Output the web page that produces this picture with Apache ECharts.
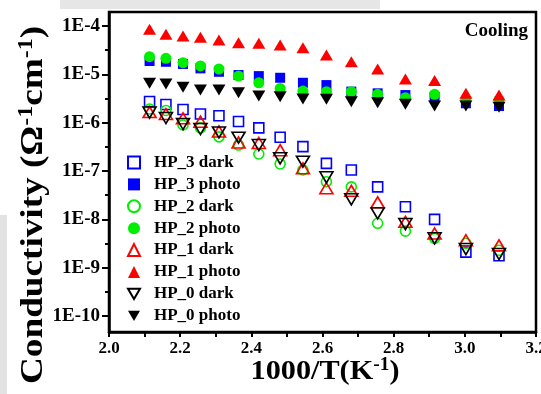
<!DOCTYPE html>
<html>
<head>
<meta charset="utf-8">
<script src="https://cdn.jsdelivr.net/npm/echarts@6/dist/echarts.min.js"></script>
<style>
  html, body { margin: 0; padding: 0; background: #fff; }
  #chart { width: 541px; height: 394px; }
</style>
</head>
<body>
<div id="chart"></div>
<script>
// 1000/T values (K^-1) for the cooling run, 473 K down to 323 K
const invT = [2.114, 2.160, 2.208, 2.257, 2.309, 2.364, 2.421, 2.481, 2.545, 2.611, 2.681, 2.755, 2.833, 2.915, 3.003, 3.096];

// Conductivity (ohm^-1 cm^-1), dark and under illumination
const hp3Dark  = [2.74e-6, 2.38e-6, 1.87e-6, 1.51e-6, 1.39e-6, 1.06e-6, 7.8e-7, 5.0e-7, 3.2e-7, 1.44e-7, 1.05e-7, 4.7e-8, 1.82e-8, 1.0e-8, 2.1e-9, 1.77e-9];
const hp3Photo = [1.89e-5, 1.82e-5, 1.64e-5, 1.33e-5, 1.13e-5, 9.7e-6, 9.2e-6, 8.5e-6, 6.7e-6, 6.0e-6, 4.4e-6, 4.05e-6, 3.73e-6, 3.4e-6, 2.52e-6, 2.21e-6];
const hp2Dark  = [1.92e-6, 1.79e-6, 8.95e-7, 7.8e-7, 5.1e-7, 3.45e-7, 2.25e-7, 1.40e-7, 1.05e-7, 6.0e-8, 4.7e-8, 8.3e-9, 5.7e-9, 4.05e-9, 3.2e-9, 2.3e-9];
const hp2Photo = [2.32e-5, 2.15e-5, 1.74e-5, 1.49e-5, 1.29e-5, 9.2e-6, 6.7e-6, 5.1e-6, 4.5e-6, 4.37e-6, 4.37e-6, 3.86e-6, 3.28e-6, 3.86e-6, 2.94e-6, 2.94e-6];
const hp1Dark  = [1.66e-6, 1.51e-6, 1.23e-6, 1.05e-6, 6.6e-7, 3.9e-7, 3.8e-7, 2.7e-7, 1.14e-7, 4.4e-8, 3.9e-8, 2.25e-8, 8.9e-9, 5.1e-9, 3.7e-9, 2.9e-9];
const hp1Photo = [8.55e-5, 6.73e-5, 6.21e-5, 5.83e-5, 5.13e-5, 4.51e-5, 4.38e-5, 4.04e-5, 3.56e-5, 2.51e-5, 1.82e-5, 1.29e-5, 8.0e-6, 7.5e-6, 4.05e-6, 3.73e-6];
const hp0Dark  = [1.62e-6, 1.25e-6, 9.4e-7, 7.4e-7, 6.3e-7, 4.9e-7, 3.45e-7, 1.83e-7, 1.56e-7, 7.4e-8, 2.6e-8, 1.33e-8, 8.0e-9, 4.05e-9, 2.43e-9, 1.92e-9];
const hp0Photo = [6.52e-6, 6.31e-6, 5.39e-6, 4.74e-6, 4.74e-6, 4.17e-6, 3.56e-6, 3.45e-6, 3.09e-6, 3.04e-6, 2.71e-6, 2.59e-6, 2.40e-6, 2.21e-6, 2.21e-6, 2.08e-6];

const seriesNames = ['HP_3 dark', 'HP_3 photo', 'HP_2 dark', 'HP_2 photo', 'HP_1 dark', 'HP_1 photo', 'HP_0 dark', 'HP_0 photo'];
const xTicks = [2.0, 3.2, 0.2];          // min, max, step
const yLogRange = [-10.33, -3.71];       // decades shown on the conductivity axis

const FONT = "'Times New Roman', 'Liberation Serif', serif";
const DOWN_TRIANGLE = 'path://M0,0L13,0L6.5,11Z';

// name, values, symbol, colour, filled, rotation, size
const styles = [
  [seriesNames[0], hp3Dark,  'rect',     '#0000ff', false, 0,   [10, 10]],
  [seriesNames[1], hp3Photo, 'rect',     '#0000ff', true,  0,   [10, 10]],
  [seriesNames[2], hp2Dark,  'circle',   '#00ee00', false, 0,   [10, 10]],
  [seriesNames[3], hp2Photo, 'circle',   '#00ee00', true,  0,   [11, 11]],
  [seriesNames[4], hp1Dark,  'triangle', '#ff0000', false, 0,   [13, 11]],
  [seriesNames[5], hp1Photo, 'triangle', '#ff0000', true,  0,   [13, 11]],
  [seriesNames[6], hp0Dark,  'triangle', '#000000', false, 180, [13, 11]],
  [seriesNames[7], hp0Photo, 'triangle', '#000000', true,  180, [13, 11]]
];

const series = styles.map(([name, vals, symbol, color, filled, rot, size]) => ({
  name: name,
  type: 'scatter',
  yAxisIndex: 0,
  symbol: symbol,
  symbolSize: size,
  symbolRotate: rot,
  itemStyle: filled
    ? { color: color, borderWidth: 0, opacity: 1 }
    : { color: 'rgba(255,255,255,0)', borderColor: color, borderWidth: 1.6, opacity: 1 },
  emphasis: { disabled: true },
  data: invT.map((x, i) => [x, vals[i]])
}));

// legend entries; the rotated triangles get an explicit downward icon
const legendItems = styles.map(([name, , , , , rot]) =>
  rot ? { name: name, icon: DOWN_TRIANGLE } : { name: name });

const chart = echarts.init(document.getElementById('chart'), null, { renderer: 'canvas' });

chart.setOption({
  animation: false,
  backgroundColor: '#ffffff',
  title: {
    text: 'Cooling',
    right: 13,
    top: 22,
    padding: 0,
    textStyle: { fontFamily: FONT, fontWeight: 'bold', fontSize: 19, color: '#000' }
  },
  legend: {
    orient: 'vertical',
    left: 127,
    top: 154,
    padding: 0,
    itemWidth: 12,
    itemHeight: 12,
    itemGap: 4.9,
    data: legendItems,
    textStyle: { fontFamily: FONT, fontWeight: 'bold', fontSize: 17, lineHeight: 17, color: '#000', padding: [0, 0, 0, 9] }
  },
  grid: {
    left: 109, right: 5, top: 12, bottom: 62,
    outerBoundsMode: 'none',
    containLabel: false,
    show: true, borderColor: '#000', borderWidth: 2.5, backgroundColor: 'transparent'
  },
  xAxis: {
    type: 'value',
    min: xTicks[0], max: xTicks[1], interval: xTicks[2],
    axisLine: { onZero: false, lineStyle: { color: '#000', width: 2.5 } },
    axisTick: { inside: false, length: 5, lineStyle: { color: '#000', width: 2 } },
    minorTick: { show: true, splitNumber: 2, length: 5, lineStyle: { color: '#000', width: 2 } },
    splitLine: { show: false },
    axisLabel: {
      margin: 8, color: '#000', fontFamily: FONT, fontWeight: 'bold', fontSize: 17,
      formatter: v => v.toFixed(1)
    }
  },
  yAxis: [
    {
      type: 'log',
      logBase: 10,
      min: Math.pow(10, yLogRange[0]),
      max: Math.pow(10, yLogRange[1]),
      position: 'left',
      axisLine: { show: true, lineStyle: { color: '#000', width: 2.5 } },
      axisTick: { inside: false, length: 7, lineStyle: { color: '#000', width: 2 } },
      splitLine: { show: false },
      axisLabel: {
        margin: 9, color: '#000', fontFamily: FONT, fontWeight: 'bold', fontSize: 19,
        showMinLabel: false, showMaxLabel: false,
        formatter: v => '1E' + Math.round(Math.log10(v))
      }
    },
    {
      // half-decade minor ticks, drawn on a linear axis in log10 units
      type: 'value',
      min: yLogRange[0],
      max: yLogRange[1],
      position: 'left',
      axisLine: { show: false },
      axisTick: { show: false },
      axisLabel: { show: false },
      splitLine: { show: false },
      minorTick: { show: true, splitNumber: 2, length: 4, lineStyle: { color: '#000', width: 2 } }
    }
  ],
  graphic: [
    { type: 'rect', z: -10, shape: { x: 60, y: 0, width: 320, height: 9 }, style: { fill: '#e6e6e6' } },
    { type: 'rect', z: -10, shape: { x: 0, y: 215, width: 7, height: 179 }, style: { fill: '#e2e2e2' } },
    {
      type: 'text', z: 10,
      x: 34, y: 205, rotation: Math.PI / 2, scaleX: 1.2,
      style: {
        text: '{a|Conductivity (Ω}{s|-1}{a|cm}{s|-1}{a|)}',
        align: 'center', verticalAlign: 'middle', fill: '#000',
        rich: {
          a: { fontFamily: FONT, fontWeight: 'bold', fontSize: 31, lineHeight: 34 },
          s: { fontFamily: FONT, fontWeight: 'bold', fontSize: 20, lineHeight: 20, verticalAlign: 'top' }
        }
      }
    },
    {
      type: 'text', z: 10,
      x: 325, y: 372, scaleX: 1.08,
      style: {
        text: '{a|1000/T(K}{s|-1}{a|)}',
        align: 'center', verticalAlign: 'middle', fill: '#000',
        rich: {
          a: { fontFamily: FONT, fontWeight: 'bold', fontSize: 28, lineHeight: 32 },
          s: { fontFamily: FONT, fontWeight: 'bold', fontSize: 18, lineHeight: 18, verticalAlign: 'top' }
        }
      }
    }
  ],
  series: series
});
</script>
</body>
</html>
